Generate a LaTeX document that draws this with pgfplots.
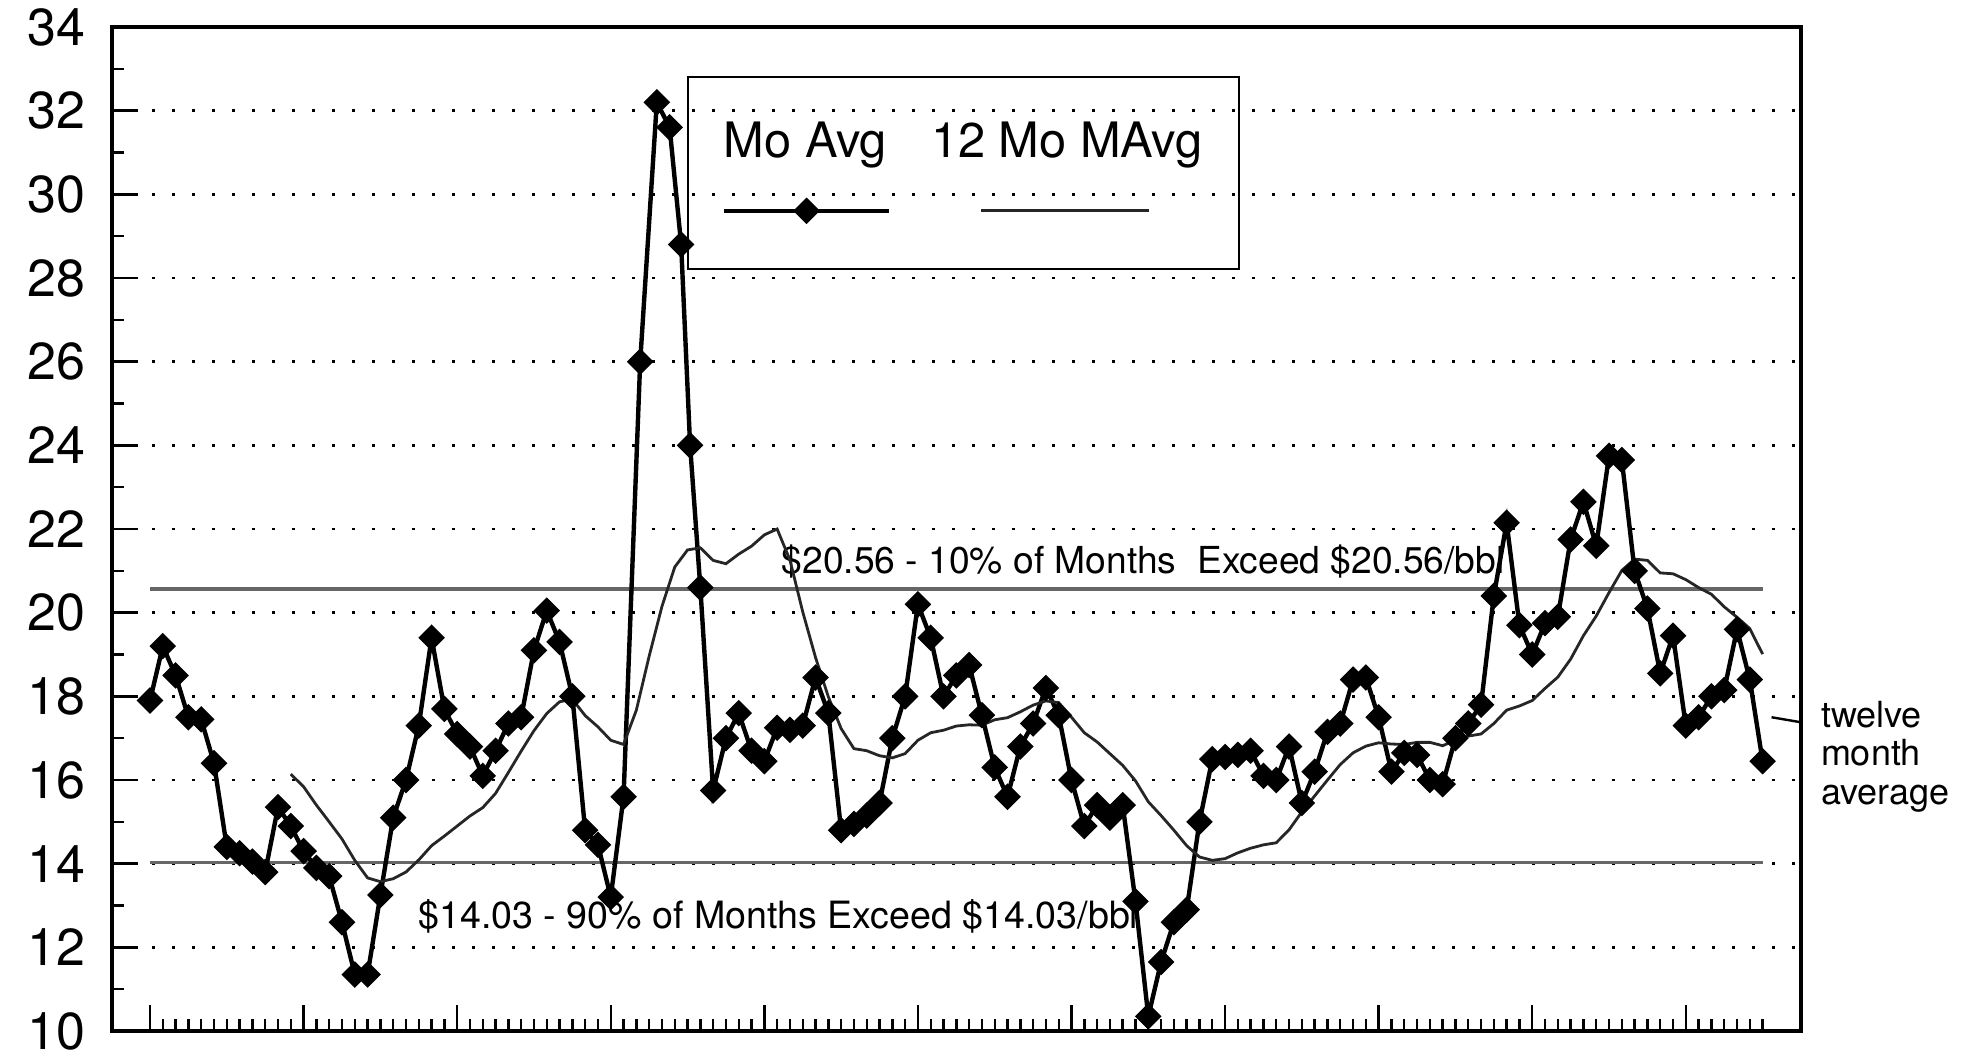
\documentclass[border=0pt]{standalone}
\usepackage{pgfplots}
\usepackage{pgfplotstable}
\pgfplotsset{compat=1.18}
\usepackage{fontspec}
\setmainfont{TeX Gyre Heros}

\pgfplotsset{
  moleg/.style={legend image code/.code={
    \draw[##1, overlay, mark repeat=2, mark phase=2] plot coordinates {(0pt,-13.35pt) (20.7pt,-13.35pt) (41.4pt,-13.35pt)};
  }},
  maleg/.style={legend image code/.code={
    \draw[##1, overlay] (12.6pt,-13.35pt) -- (54.4pt,-13.35pt);
  }},
}

\pgfplotstableread{
m v
0 17.9
1 19.2
2 18.5
3 17.5
4 17.45
5 16.4
6 14.4
7 14.25
8 14.05
9 13.8
10 15.35
11 14.9
12 14.3
13 13.9
14 13.7
15 12.6
16 11.35
17 11.35
18 13.25
19 15.1
20 16.0
21 17.3
22 19.4
23 17.7
24 17.1
25 16.8
26 16.1
27 16.7
28 17.35
29 17.5
30 19.1
31 20.05
32 19.3
33 18.0
34 14.8
35 14.45
36 13.2
37 15.6
38.3 26.0
39.6 32.2
40.6 31.6
41.5 28.8
42.2 24.0
43 20.6
44 15.75
45 17.0
46 17.6
47 16.7
48 16.45
49 17.25
50 17.2
51 17.3
52 18.45
53 17.6
54 14.8
55 14.95
56 15.15
57 15.45
58 17.0
59 18.0
60 20.2
61 19.4
62 18.0
63 18.5
64 18.75
65 17.55
66 16.3
67 15.6
68 16.8
69 17.35
70 18.2
71 17.55
72 16.0
73 14.9
74 15.4
75 15.1
76 15.4
77 13.1
78 10.35
79 11.65
80 12.6
81 12.9
82 15.0
83 16.5
84 16.55
85 16.6
86 16.7
87 16.1
88 16.0
89 16.8
90 15.45
91 16.2
92 17.15
93 17.35
94 18.4
95 18.45
96 17.5
97 16.2
98 16.65
99 16.6
100 16.0
101 15.9
102 17.0
103 17.35
104 17.8
105 20.4
106 22.15
107 19.7
108 19.0
109 19.75
110 19.9
111 21.75
112 22.65
113 21.6
114 23.75
115 23.65
116 21.0
117 20.1
118 18.55
119 19.45
120 17.3
121 17.5
122 18.0
123 18.15
124 19.6
125 18.4
126 16.45
}\moavg

\pgfplotstableread{
m v
11 16.14
12 15.84
13 15.40
14 15.00
15 14.59
16 14.08
17 13.66
18 13.57
19 13.64
20 13.80
21 14.09
22 14.43
23 14.66
24 14.90
25 15.14
26 15.34
27 15.68
28 16.18
29 16.69
30 17.18
31 17.59
32 17.87
33 17.93
34 17.54
35 17.27
36 16.95
37 16.85
38 17.67
39 18.96
40 20.15
41 21.09
42 21.50
43 21.55
44 21.25
45 21.17
46 21.40
47 21.59
48 21.86
49 22.00
50 21.26
51 20.02
52 18.93
53 17.99
54 17.23
55 16.75
56 16.70
57 16.58
58 16.53
59 16.63
60 16.95
61 17.13
62 17.19
63 17.29
64 17.32
65 17.31
66 17.44
67 17.49
68 17.63
69 17.79
70 17.89
71 17.85
72 17.50
73 17.13
74 16.91
75 16.63
76 16.35
77 15.98
78 15.48
79 15.15
80 14.80
81 14.43
82 14.16
83 14.08
84 14.12
85 14.26
86 14.37
87 14.45
88 14.50
89 14.81
90 15.24
91 15.62
92 16.00
93 16.37
94 16.65
95 16.81
96 16.89
97 16.86
98 16.85
99 16.90
100 16.90
101 16.82
102 16.95
103 17.05
104 17.10
105 17.35
106 17.67
107 17.77
108 17.90
109 18.19
110 18.46
111 18.89
112 19.45
113 19.92
114 20.48
115 21.01
116 21.28
117 21.25
118 20.95
119 20.93
120 20.79
121 20.60
122 20.44
123 20.14
124 19.89
125 19.62
126 19.01
}\mavg

\begin{document}
\begin{tikzpicture}
\useasboundingbox (0,0) rectangle (495.75pt,265.75pt);
\begin{axis}[
  at={(28pt,8pt)}, anchor=south west,
  scale only axis, width=422.25pt, height=251pt,
  xmin=-2.97, xmax=129.0, ymin=10, ymax=34,
  axis line style={line width=0.8pt},
  tick align=inside,
  xtick pos=bottom, ytick pos=left,
  xtick={0,12,...,120}, minor xtick={0,...,126}, xticklabels={},
  ytick={10,12,...,34}, minor ytick={11,13,...,33},
  major tick length=6.5pt, minor tick length=3pt,
  tick style={black, line width=0.6pt},
  ymajorgrids,
  major grid style={black, line width=0.7pt, dash pattern=on 0.7pt off 4.3pt},
  yticklabel style={font=\fontsize{13}{15}\selectfont, inner sep=0pt, xshift=-6.5pt},
  /pgf/number format/assume math mode=true,
  clip=false,
  legend columns=2,
  legend style={
    at={(axis description cs:0.3403,0.9514)}, anchor=north west,
    draw=black, line width=0.5pt, fill=none,
    inner xsep=9pt, inner ysep=11.15pt,
    column sep=0pt,
    /tikz/every even column/.append style={column sep=11pt},
    font=\fontsize{12.2}{14}\selectfont,
    nodes={inner sep=0pt, text height=9pt, text depth=16.7pt},
    cells={anchor=base west},
  },
]
\addplot[black!60, line width=0.9pt, forget plot] coordinates {(0,20.56) (126,20.56)};
\addplot[black!60, line width=0.9pt, forget plot] coordinates {(0,14.03) (126,14.03)};
\node[anchor=base west, inner sep=0pt, font=\fontsize{9.3}{11}\selectfont] at (axis cs:49.3,20.93) {\$20.56 - 10\% of Months~~Exceed \$20.56/bbl};
\node[anchor=base west, inner sep=0pt, font=\fontsize{9.4}{11}\selectfont] at (axis cs:20.9,12.45) {\$14.03 - 90\% of Months Exceed \$14.03/bbl};

\addplot[black, line width=1.1pt, mark=square*, mark size=2.2pt,
  mark options={rotate=45, solid, fill=black, line width=0.3pt}, moleg]
  table[x=m, y=v] {\moavg};
\addlegendentry{Mo Avg}

\addplot[black!85, line width=0.7pt, maleg] table[x=m, y=v] {\mavg};
\addlegendentry{12 Mo MAvg}

\draw[black, line width=0.6pt] (axis cs:126.7,17.5) -- (axis cs:129.0,17.38);
\node[anchor=north west, align=left, inner sep=0pt, font=\fontsize{9}{9.6}\selectfont] at (axis cs:130.5,17.9) {twelve\\month\\average};
\end{axis}
\end{tikzpicture}
\end{document}
